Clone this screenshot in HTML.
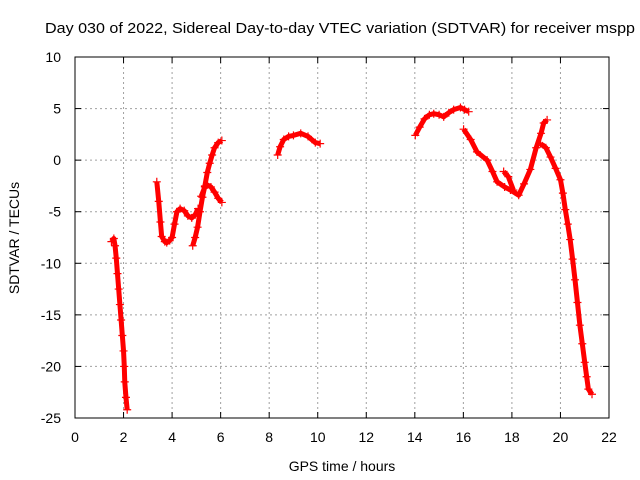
<!DOCTYPE html>
<html><head><meta charset="utf-8"><style>
body{margin:0;background:#fff}
svg{display:block;font-family:"Liberation Sans",sans-serif}
</style></head><body>
<svg id="chart" width="640" height="480">
<text x="340" y="33" text-anchor="middle" font-size="15" textLength="590" lengthAdjust="spacingAndGlyphs">Day 030 of 2022, Sidereal Day-to-day VTEC variation (SDTVAR) for receiver mspp</text>
<text x="342" y="471" text-anchor="middle" font-size="14">GPS time / hours</text>
<text transform="translate(19,238) rotate(-90)" text-anchor="middle" font-size="14">SDTVAR / TECUs</text>
<g id="grid"></g><g id="ticks"></g><g id="series"></g>
<rect x="75" y="57" width="534" height="361" fill="none" stroke="#000" stroke-width="1"/>
</svg>
<script>
const xTicks=[0,2,4,6,8,10,12,14,16,18,20,22];
const yTicks=[10,5,0,-5,-10,-15,-20,-25];
const seg1=[[1.5,-7.9],[1.6,-7.6],[1.65,-8.3],[1.7,-9.5],[1.75,-11],[1.8,-12.5],[1.85,-14],[1.9,-15.5],[1.95,-17],[2.0,-18.5],[2.03,-20],[2.05,-21.5],[2.1,-23],[2.15,-24.2]];
const seg2=[[3.37,-2.1],[3.45,-4],[3.52,-6],[3.57,-7.4],[3.7,-7.9],[3.78,-8.0],[3.9,-7.8],[4.0,-7.5],[4.1,-6.2],[4.2,-5.0],[4.33,-4.7],[4.5,-4.9],[4.65,-5.4],[4.81,-5.6],[4.95,-5.3],[5.07,-4.7]];
const seg3=[[4.85,-8.3],[4.95,-7.5],[5.05,-6.5],[5.15,-5],[5.25,-3.6],[5.35,-2.5],[5.45,-1.2],[5.55,-0.3],[5.65,0.5],[5.75,1.2],[5.9,1.7],[6.05,1.9]];
const seg4=[[5.2,-3.5],[5.35,-2.6],[5.45,-2.4],[5.6,-2.6],[5.75,-3.1],[5.9,-3.7],[6.05,-4.1]];
const seg5=[[8.35,0.5],[8.45,1.3],[8.6,2.0],[8.8,2.3],[9.0,2.4],[9.3,2.6],[9.6,2.3],[9.9,1.7],[10.1,1.6]];
const seg6=[[14.02,2.4],[14.2,3.2],[14.4,4.0],[14.6,4.4],[14.78,4.5],[15.0,4.4],[15.19,4.2],[15.4,4.6],[15.6,4.9],[15.88,5.1],[16.05,4.9],[16.22,4.7]];
const seg7=[[16.01,3.0],[16.3,2.0],[16.56,0.8],[16.98,0],[17.2,-1.1],[17.39,-2.1],[17.7,-2.6],[17.94,-2.9],[18.28,-3.4],[18.5,-2.3],[18.76,-0.9],[19.0,1.2],[19.2,2.6],[19.31,3.6],[19.45,3.9]];
const seg8=[[17.66,-1.1],[17.85,-1.6],[18.06,-2.9]];
const seg9=[[19.18,1.6],[19.4,1.2],[19.59,0.3],[19.8,-0.8],[20.0,-1.9],[20.1,-3.2],[20.2,-4.8],[20.3,-6.2],[20.4,-7.7],[20.5,-9.6],[20.6,-11.6],[20.7,-13.8],[20.8,-16],[20.9,-17.8],[21.0,-19.6],[21.08,-21],[21.15,-22.2],[21.3,-22.7]];
const segments=[seg1,seg2,seg3,seg4,seg5,seg6,seg7,seg8,seg9];
const NS="http://www.w3.org/2000/svg";
const X0=75,X1=609,Y0=418,Y1=57,xmin=0,xmax=22,ymin=-25,ymax=10;
const sx=v=>X0+(v-xmin)/(xmax-xmin)*(X1-X0);
const sy=v=>Y0-(v-ymin)/(ymax-ymin)*(Y0-Y1);
function mk(tag,attrs,parent){const e=document.createElementNS(NS,tag);for(const k in attrs)e.setAttribute(k,attrs[k]);parent.appendChild(e);return e;}
const grid=document.getElementById('grid'),ticks=document.getElementById('ticks'),ser=document.getElementById('series');
xTicks.forEach(t=>{const x=sx(t);
 if(t>xmin&&t<xmax){const g=mk('line',{x1:x,x2:x,y1:Y1,y2:Y0,stroke:'#a0a0a0','stroke-dasharray':'2,3'},grid);}
 mk('line',{x1:x,x2:x,y1:Y0,y2:Y0-6,stroke:'#000'},ticks);mk('line',{x1:x,x2:x,y1:Y1,y2:Y1+6,stroke:'#000'},ticks);
 const l=mk('text',{x:x,y:442,'text-anchor':'middle','font-size':14},ticks);l.textContent=t;
 
 });
yTicks.forEach(t=>{const y=sy(t);
 if(t>ymin&&t<ymax){const g=mk('line',{x1:X0,x2:X1,y1:y,y2:y,stroke:'#a0a0a0','stroke-dasharray':'2,3'},grid);}
 mk('line',{x1:X0,x2:X0+6,y1:y,y2:y,stroke:'#000'},ticks);mk('line',{x1:X1,x2:X1-6,y1:y,y2:y,stroke:'#000'},ticks);
 const l=mk('text',{x:61,y:y+5,'text-anchor':'end','font-size':14},ticks);l.textContent=t;
 
 });
segments.forEach((s,i)=>{
 const p=mk('polyline',{points:s.map(d=>sx(d[0])+','+sy(d[1])).join(' '),fill:'none',stroke:'#f00','stroke-width':5,'stroke-linejoin':'round'},ser);
 
 
 s.forEach(d=>{const x=sx(d[0]),y=sy(d[1]);
  const m=mk('path',{d:`M${x-4},${y}H${x+4}M${x},${y-4}V${y+4}`,stroke:'#f00','stroke-width':1.2},ser);
  
  });
});
</script>
</body></html>
